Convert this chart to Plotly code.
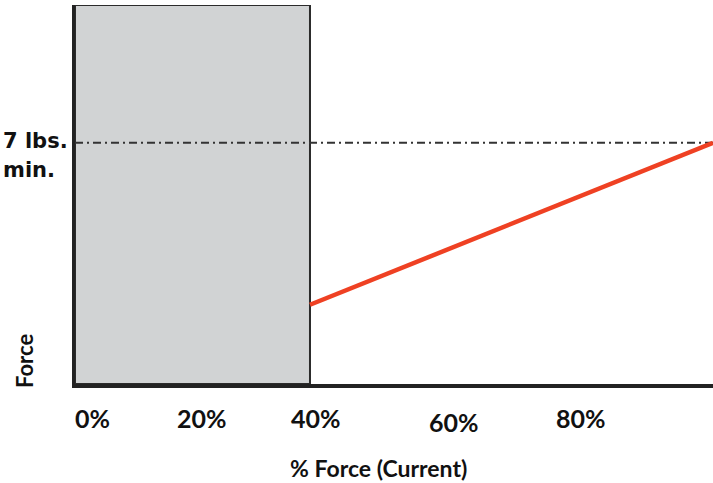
import plotly.graph_objects as go

# Data
x_range = [0, 108.6]
y_range = [0, 11]
shaded_from = 0
shaded_to = 40
min_force = 7
force_x = [40, 108.6]
force_y = [2.3, 7]
tick_labels = ["0%", "20%", "40%", "60%", "80%"]
tick_label_x = [3.0, 21.6, 41.0, 64.5, 86.1]
tick_label_drop = [0, 0, 0, 4, 0]

FONT = "Lato"
FONT2 = "DejaVu Sans"
INK = "#111111"
fig = go.Figure()

# shaded region
fig.add_shape(type="rect", x0=shaded_from, x1=shaded_to, y0=0, y1=y_range[1],
              xref="x", yref="y", fillcolor="#d1d3d4",
              line=dict(color="#2b2b2b", width=2), layer="below")

# min force dash-dot line
fig.add_trace(go.Scatter(x=x_range, y=[min_force, min_force], mode="lines",
                         line=dict(color="#333333", width=2, dash="8px,4px,2px,4px"),
                         hoverinfo="skip", showlegend=False))

# force line
fig.add_trace(go.Scatter(x=force_x, y=force_y, mode="lines",
                         line=dict(color="#ef4123", width=4.5),
                         hoverinfo="skip", showlegend=False))

for t, xv, d in zip(tick_labels, tick_label_x, tick_label_drop):
    fig.add_annotation(x=xv, y=0, xref="x", yref="paper", text="<b>%s</b>" % t,
                       showarrow=False, yanchor="middle", yshift=-34 - d,
                       font=dict(family=FONT, size=25, color=INK))

fig.add_annotation(x=51.7, y=0, xref="x", yref="paper",
                   text="<b>% Force (Current)</b>", showarrow=False,
                   yanchor="middle", yshift=-84,
                   font=dict(family=FONT, size=23, color=INK))

fig.add_annotation(x=0, y=min_force, xref="paper", yref="y",
                   text="<b>7 lbs.</b>", showarrow=False,
                   xanchor="left", yanchor="middle", xshift=-74, yshift=2,
                   font=dict(family=FONT2, size=21, color=INK))
fig.add_annotation(x=0, y=min_force, xref="paper", yref="y",
                   text="<b>min.</b>", showarrow=False,
                   xanchor="left", yanchor="middle", xshift=-74, yshift=-27,
                   font=dict(family=FONT2, size=21, color=INK))

fig.add_annotation(x=0, y=0, xref="paper", yref="paper",
                   text="<b>Force</b>", showarrow=False, textangle=-90,
                   xanchor="center", yanchor="middle", xshift=-51, yshift=23,
                   font=dict(family=FONT, size=22, color=INK))

fig.update_xaxes(range=x_range, showgrid=False, zeroline=False, showticklabels=False,
                 showline=True, linecolor="#222", linewidth=4, ticks="")
fig.update_yaxes(range=y_range, showgrid=False, zeroline=False, showticklabels=False,
                 showline=True, linecolor="#222", linewidth=3, ticks="")

fig.update_layout(width=713, height=483, margin=dict(l=75, r=0, t=5, b=99),
                  plot_bgcolor="white", paper_bgcolor="white", showlegend=False)

fig.write_html("out.html", config={"displayModeBar": False},
               post_script="document.body.style.margin='0';")
